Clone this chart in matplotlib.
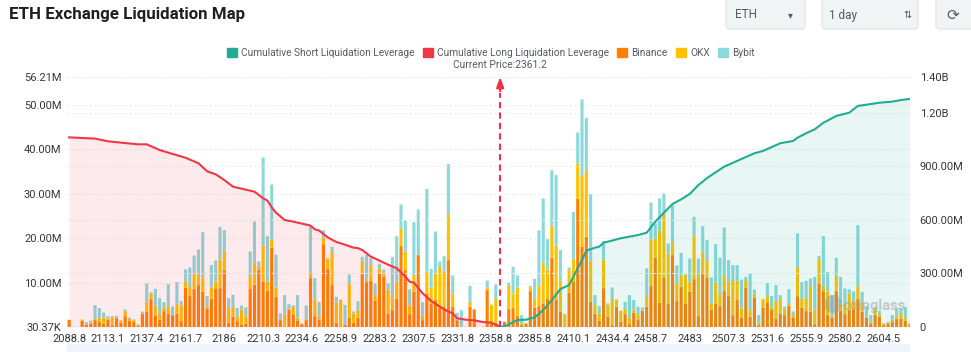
import numpy as np
import matplotlib
matplotlib.use("Agg")
import matplotlib.pyplot as plt
from matplotlib.patches import FancyBboxPatch, Patch, Circle

plt.rcParams['font.family'] = ['Roboto', 'DejaVu Sans']

# liquidation per price bin, millions
binance = [1.65,.05,0,1.42,.6,.82,1.65,1.2,.75,1.72,.45,2.02,1.05,2.47,1.42,1.2,.3,2.92,3.52,6.29,
    2.62,1.65,3.6,3.0,2.7,3.07,1.35,8.84,6.97,8.61,9.44,7.94,4.19,6.37,8.69,8.76,12.81,.97,2.4,1.35,
    .6,.75,8.69,9.59,12.96,10.26,8.16,17.83,6.82,1.57,.07,3.97,2.85,1.5,.67,1.57,11.01,2.47,1.72,18.65,
    13.03,9.44,.97,.22,.5,2.17,.97,2.1,11.91,10.11,10.41,5.92,12.21,11.31,3.0,3.82,6.37,18.2,12.81,2.92,
    8.01,16.18,1.57,7.57,5.17,6.07,4.42,4.19,15.06,4.57,1.57,.07,.05,4.57,3.97,.05,.1,8.31,.82,.97,
    .22,1.2,4.12,4.27,2.47,.45,.82,8.09,4.34,4.72,5.32,6.44,15.58,6.22,3.45,0,7.72,10.19,28.91,18.05,
    20.3,5.69,3.07,1.42,8.76,2.32,.45,4.57,1.2,2.92,.67,3.22,1.72,3.67,4.57,9.21,15.58,5.47,11.16,5.32,
    16.18,5.84,9.06,5.24,7.94,10.79,2.47,11.91,11.09,3.97,
    5.32,4.72,8.09,6.97,2.7,6.07,2.17,8.91,2.32,6.59,.45,
    4.34,5.62,3.97,1.95,3.07,2.7,4.79,2.1,6.97,4.34,3.6,3.45,.67,9.81,8.09,2.7,2.1,8.09,3.6,2.92,
    3.82,4.19,6.29,3.45,2.17,.82,2.7,2.32,.45,.82,1.12,1.8,1.95,1.42,.22]
okx = [0,0,0,.3,.15,.15,.15,.82,1.42,.22,1.87,.15,.37,1.12,.45,.37,.22,.22,2.1,1.27,
    2.17,1.27,.82,1.72,.15,2.17,3.45,1.35,2.02,3.3,2.47,3.15,.37,2.55,1.57,6.44,4.12,3.37,2.17,.9,
    3.37,1.72,2.77,4.87,.82,8.01,2.02,1.87,2.1,0,2.85,.22,1.72,.67,0,.15,1.05,3.67,.6,1.5,
    2.4,7.42,4.49,5.84,0,7.49,2.1,1.72,3.0,.45,3.52,1.27,.82,.75,5.47,3.15,3.82,4.04,4.12,1.95,
    3.67,0,1.05,4.87,3.67,5.99,9.29,8.31,10.34,3.0,0,0,0,1.12,0,0,0,.52,4.12,5.39,
    0,0,5.24,3.3,6.44,.37,0,.9,2.1,4.57,9.21,6.52,7.19,12.13,6.97,2.92,5.09,5.09,7.87,15.88,
    14.98,9.14,1.87,1.65,6.44,2.77,5.99,1.65,2.47,1.12,1.5,.75,1.2,.15,2.4,10.49,4.34,16.18,14.23,11.24,
    3.0,3.9,2.62,6.44,2.25,9.81,9.36,5.02,3.97,1.35,
    4.64,2.7,3.37,3.22,7.87,4.34,2.02,1.65,1.5,.97,.6,
    1.95,1.35,.6,3.97,3.37,1.35,.52,.6,6.37,2.1,3.0,5.84,3.3,5.62,1.12,5.24,.37,3.45,1.72,2.4,
    3.75,1.72,2.92,2.02,.15,.37,1.5,.6,.37,.15,.6,.67,1.27,.67,.6]
bybit = [0,.05,.05,0,.37,.52,3.15,2.25,1.12,.52,.15,.37,.15,.37,.3,.15,.15,.37,4.19,.3,
    3.82,3.6,1.2,4.94,1.8,4.87,1.05,2.77,4.42,4.19,5.54,10.26,2.4,5.02,4.72,7.34,4.87,2.17,2.7,2.02,
    .9,1.95,5.54,9.29,.97,19.85,10.26,12.36,7.42,1.57,4.27,.97,.37,5.02,.15,3.15,10.49,4.87,3.37,1.65,
    0,1.2,1.35,.15,4.5,2.17,.45,2.02,.9,5.62,1.57,2.62,1.12,.9,1.35,8.84,10.26,5.32,7.12,3.6,
    11.91,10.26,3.0,18.58,4.27,9.44,1.05,3.45,11.24,4.04,1.65,3.75,0,3.6,0,0,0,1.65,.15,3.22,
    0,0,.67,5.99,2.7,1.87,0,.3,4.42,12.43,14.38,6.82,12.51,15.81,6.89,0,.6,10.64,6.97,17.23,
    11.69,15.06,2.25,1.65,4.12,.22,2.47,0,0,1.65,5.02,2.1,1.65,.6,6.22,8.31,3.37,7.27,4.64,2.25,
    8.24,4.12,5.02,.22,5.24,4.19,3.6,5.77,4.49,5.84,
    8.69,8.16,10.94,4.87,3.37,3.52,6.52,.75,8.24,.9,1.65,
    0,2.92,2.47,3.52,.75,.52,3.22,.82,7.72,3.67,3.82,1.65,7.34,.6,11.24,4.49,4.72,4.04,5.99,3.37,
    .9,2.1,13.71,2.47,2.4,1.5,.37,.75,0,.22,.97,1.72,.97,2.47,0]

# cumulative leverage, millions, read at these bins
long_bins = [0,6,9,13,16,18,21,24,27,30,32,34,36,38,41,43,45,46,47,48,49,50,52,54,56,57,58,59,60,62,64,
    66,67,68,70,72,74,76,78,79,80,82,84,86,88,89,90,92,94,96,98,100]
long_cum = [1062,1055,1040,1030,1023,1023,991,969,948,917,872,855,823,786,769,758,721,708,670,640,620,599,590,
    579,568,547,540,521,502,476,461,444,442,431,394,372,349,329,282,254,248,189,146,114,86,77,49,41,37,28,24,2]
short_bins = [100,101,102,104,106,108,110,112,114,116,117,118,119,120,122,123,124,126,128,130,132,134,136,138,
    140,142,144,146,147,148,152,156,159,161,165,168,169,171,173,175,176,178,181,183,185,188,191,193,195]
short_cum = [0,4,15,39,41,54,95,151,213,235,282,329,375,428,444,450,472,484,497,506,515,528,590,640,
    689,715,745,795,814,834,898,941,973,986,1029,1042,1060,1085,1107,1144,1156,1182,1200,1238,1245,1256,1262,1271,1277]

x_labels = ["2088.8","2113.1","2137.4","2161.7","2186","2210.3","2234.6","2258.9","2283.2","2307.5","2331.8",
    "2358.8","2385.8","2410.1","2434.4","2458.7","2483","2507.3","2531.6","2555.9","2580.2","2604.5"]
left_ticks = [0.03037, 10, 20, 30, 40, 50, 56.21]
left_labels = ["30.37K", "10.00M", "20.00M", "30.00M", "40.00M", "50.00M", "56.21M"]
right_ticks = [0, 300, 600, 900, 1200, 1400]
right_labels = ["0", "300.00M", "600.00M", "900.00M", "1.20B", "1.40B"]
current_bin = 100

C_SHORT, C_LONG = "#22ab94", "#f23645"
C_BIN, C_OKX, C_BYB = "#ff8000", "#ffc000", "#8cd9db"
GREY = "#565b63"

fig = plt.figure(figsize=(9.71, 3.52), dpi=100)
W, H = 971, 352
ax = fig.add_axes([67/W, 1-327/H, (910-67)/W, 250/H])
xs = np.arange(len(binance))
b, o, y = np.array(binance), np.array(okx), np.array(bybit)
# snap off so every bar keeps the same soft width
ax.bar(xs, b, width=0.72, color=C_BIN, zorder=2, snap=False)
ax.bar(xs, o, width=0.72, bottom=b, color=C_OKX, zorder=2, snap=False)
ax.bar(xs, y, width=0.72, bottom=b+o, color=C_BYB, zorder=2, snap=False)
ax.set_xlim(-0.5, 195.1)
ax.set_ylim(0.03037, 56.21)
ax.set_yticks(left_ticks, left_labels)
ax.set_xticks(xs[::9][:len(x_labels)], x_labels)
ax.tick_params(axis='both', length=0, labelsize=8, labelcolor="#33373d")
ax.tick_params(axis='y', pad=4)
ax.tick_params(axis='x', pad=5)
ax.grid(axis='y', color="#ececec", linestyle=(0, (2, 2)), linewidth=0.8, zorder=0)
ax.set_axisbelow(True)
for s in ax.spines.values():
    s.set_visible(False)

ax2 = ax.twinx()
ax2.set_ylim(0, 1400)
ax2.set_yticks(right_ticks, right_labels)
ax2.tick_params(axis='y', length=0, labelsize=8, labelcolor="#33373d", pad=7)
ax2.grid(axis='y', color="#ececec", linestyle=(0, (2, 2)), linewidth=0.8, zorder=0)
for s in ax2.spines.values():
    s.set_visible(False)
ax2.patch.set_visible(False)
ax2.fill_between(long_bins, long_cum, color=C_LONG, alpha=0.1, linewidth=0, zorder=3)
ax2.fill_between(short_bins, short_cum, color=C_SHORT, alpha=0.1, linewidth=0, zorder=3)
ax2.plot(long_bins, long_cum, color=C_LONG, lw=1.5, zorder=4)
ax2.plot(short_bins, short_cum, color=C_SHORT, lw=1.5, zorder=4)

# current price marker
ax2.plot([current_bin, current_bin], [0, 1310], color="#f0304a", lw=1.5, linestyle=(0, (3, 2)), zorder=5)
ax2.annotate("", xy=(current_bin, 1400), xytext=(current_bin, 1320), zorder=5,
             arrowprops=dict(arrowstyle="-|>,head_width=0.22,head_length=0.6", color="#f0304a", lw=1.5,
                             shrinkA=0, shrinkB=0))
fig.text(500/W, 1-65.5/H, "Current Price:2361.2", fontsize=7.4, color=GREY, ha='center', va='center')

handles = [Patch(color=C_SHORT), Patch(color=C_LONG), Patch(color=C_BIN), Patch(color=C_OKX), Patch(color=C_BYB)]
names = ["Cumulative Short Liquidation Leverage", "Cumulative Long Liquidation Leverage", "Binance", "OKX", "Bybit"]
fig.legend(handles, names, loc='center', bbox_to_anchor=(491/W, 1-53/H), ncol=5, frameon=False, fontsize=7.3,
           handlelength=0.95, handleheight=0.95, handletextpad=0.45, columnspacing=0.8, labelcolor=GREY)

fig.text(9/W, 1-15/H, "ETH Exchange Liquidation Map", fontsize=12.2, fontweight='bold', color="#1c1f24",
         ha='left', va='center')

# page controls around the chart
ctrl = fig.add_axes([0, 0, 1, 1], zorder=-1)
ctrl.set_xlim(0, W)
ctrl.set_ylim(H, 0)
ctrl.axis('off')
for x0, x1 in [(724, 807), (820, 920), (934, 990)]:
    ctrl.add_patch(FancyBboxPatch((x0+2, -6), x1-x0-4, 36-1, boxstyle="round,pad=0,rounding_size=4",
                                  mutation_aspect=1, fc="#f1f4f5", ec="#e9ecee", lw=1.5))
ctrl.add_patch(plt.Rectangle((67, 344), 843, 8, fc="#eff3fb", ec="none"))
ctrl.text(735, 15, "ETH", fontsize=8.5, color=GREY, va='center')
ctrl.text(790, 15, "▾", fontsize=7, color=GREY, va='center', ha='center', family='DejaVu Sans')
ctrl.text(829, 15, "1 day", fontsize=8.5, color=GREY, va='center')
ctrl.text(907, 15, "⇅", fontsize=7, color=GREY, va='center', ha='center', family='DejaVu Sans')
ctrl.text(953, 15, "⟳", fontsize=11, color=GREY, va='center', ha='center', family='DejaVu Sans')

# watermark
ax2.text(0.958, 0.083, "coinglass", transform=ax2.transAxes, fontsize=10.5, fontweight='bold', color="#a8a8a8",
         alpha=0.6, ha='center', va='center', zorder=6)
fig.add_artist(Circle((833, 352-304), 9, transform=None, fc="#999999", alpha=0.45, ec="none"))

fig.savefig("out.png", dpi=100)
